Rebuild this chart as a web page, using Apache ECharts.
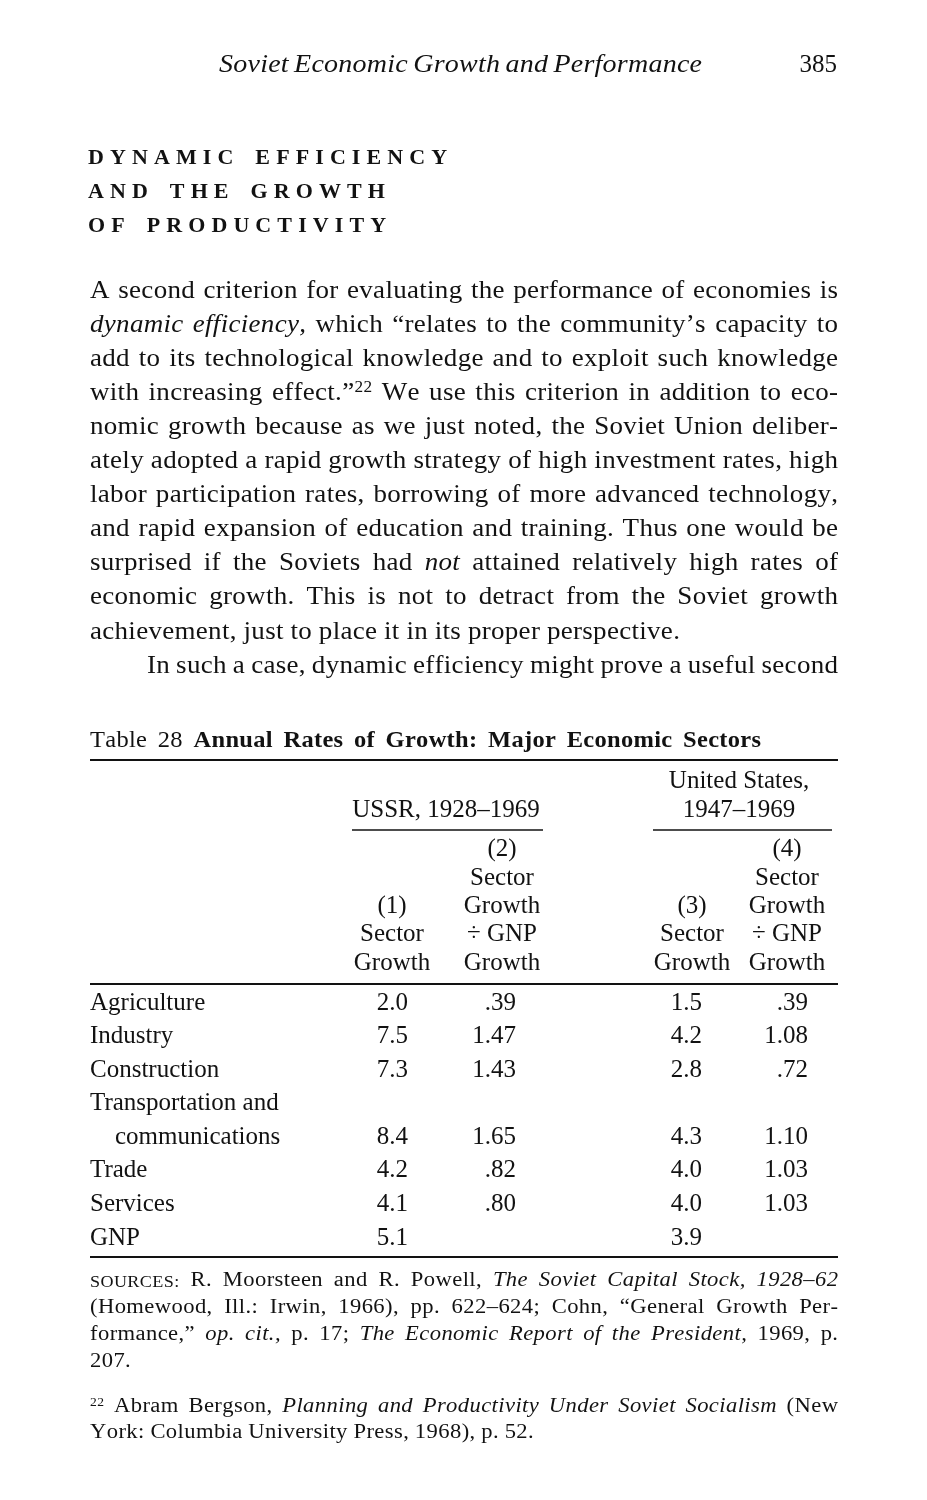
<!DOCTYPE html>
<html>
<head>
<meta charset="utf-8">
<script src="https://cdn.jsdelivr.net/npm/echarts@6/dist/echarts.min.js"></script>
<style>
html, body { margin: 0; padding: 0; background: #fff; }
#page { width: 927px; height: 1500px; }
</style>
</head>
<body>
<div id="page"></div>
<script>
// table data
var sectors = ['Agriculture', 'Industry', 'Construction', 'Transportation and\ncommunications', 'Trade', 'Services', 'GNP'];
var ussrSector = [2.0, 7.5, 7.3, 8.4, 4.2, 4.1, 5.1];
var ussrRatio = [0.39, 1.47, 1.43, 1.65, 0.82, 0.80, null];
var usSector = [1.5, 4.2, 2.8, 4.3, 4.0, 4.0, 3.9];
var usRatio = [0.39, 1.08, 0.72, 1.10, 1.03, 1.03, null];
var groupHeads = [['USSR, 1928–1969'], ['United States,', '1947–1969']];
var colHeads = [
    ['(1)', 'Sector', 'Growth'],
    ['(2)', 'Sector', 'Growth', '÷ GNP', 'Growth'],
    ['(3)', 'Sector', 'Growth'],
    ['(4)', 'Sector', 'Growth', '÷ GNP', 'Growth']
];

// page text
var runHead = 'Soviet Economic Growth and Performance';
var pageNo = '385';
var heading = ['DYNAMIC EFFICIENCY', 'AND THE GROWTH', 'OF PRODUCTIVITY'];
// * italic, ! bold, ~ small caps, ^ superscript
var bodyLines = [
    'A second criterion for evaluating the performance of economies is',
    '*dynamic *efficiency, which “relates to the community’s capacity to',
    'add to its technological knowledge and to exploit such knowledge',
    'with increasing effect.”^22 We use this criterion in addition to eco-',
    'nomic growth because as we just noted, the Soviet Union deliber-',
    'ately adopted a rapid growth strategy of high investment rates, high',
    'labor participation rates, borrowing of more advanced technology,',
    'and rapid expansion of education and training. Thus one would be',
    'surprised if the Soviets had *not attained relatively high rates of',
    'economic growth. This is not to detract from the Soviet growth',
    'achievement, just to place it in its proper perspective.',
    'In such a case, dynamic efficiency might prove a useful second'
];
var caption = 'Table 28 !Annual !Rates !of !Growth: !Major !Economic !Sectors';
var sourceLines = [
    '~SOURCES: R. Moorsteen and R. Powell, *The *Soviet *Capital *Stock, *1928–62',
    '(Homewood, Ill.: Irwin, 1966), pp. 622–624; Cohn, “General Growth Per-',
    'formance,” *op. *cit., p. 17; *The *Economic *Report *of *the *President, 1969, p.',
    '207.'
];
var noteLines = [
    '^22 Abram Bergson, *Planning *and *Productivity *Under *Soviet *Socialism (New',
    'York: Columbia University Press, 1968), p. 52.'
];

// layout
var FONT = '"Liberation Serif", "Times New Roman", serif';
var INK = '#121212';
var colRight = [408, 516, 702, 808];
var colMid = [392, 502, 692, 787];
var groupMid = [446, 739];
var groupRule = [[352, 543], [653, 832]];

var ctx = document.createElement('canvas').getContext('2d');
var wCache = {};

function charW(ch, size, style, weight) {
    var f = style + ' ' + weight + ' ' + size + 'px ' + FONT;
    var k = f + '|' + ch;
    if (!(k in wCache)) {
        ctx.font = f;
        wCache[k] = ctx.measureText(ch).width;
    }
    return wCache[k];
}

function parseWord(w, size) {
    var style = 'normal', weight = 'normal', s = size;
    if (w[0] === '*') { style = 'italic'; w = w.slice(1); }
    else if (w[0] === '!') { weight = 'bold'; w = w.slice(1); }
    else if (w[0] === '~') { s = Math.round(size * 0.78); w = w.slice(1); }
    var parts = [];
    var k = w.indexOf('^');
    var base = k < 0 ? w : w.slice(0, k);
    if (base) parts.push({ t: base, size: s, style: style, weight: weight, dy: 0.34 * (size - s) });
    if (k >= 0) {
        var ss = Math.round(size * 0.62);
        parts.push({ t: w.slice(k + 1), size: ss, style: 'normal', weight: 'normal', dy: 0.34 * (size - ss) - 0.36 * size });
    }
    return parts;
}

function partsInfo(parts, hs) {
    var w = 0, n = 0;
    parts.forEach(function(p) {
        for (var i = 0; i < p.t.length; i++) {
            w += charW(p.t[i], p.size, p.style, p.weight) * hs;
            n++;
        }
    });
    return { w: w, n: n };
}

function drawParts(parts, x, y, track, hs, out) {
    parts.forEach(function(p) {
        for (var i = 0; i < p.t.length; i++) {
            var ch = p.t[i];
            if (ch !== ' ') {
                out.push({
                    type: 'text', x: x, y: y + p.dy, scaleX: hs, silent: true,
                    style: {
                        text: ch, fill: INK, fontSize: p.size, fontFamily: FONT,
                        fontStyle: p.style, fontWeight: p.weight, verticalAlign: 'middle', align: 'left'
                    }
                });
            }
            x += charW(ch, p.size, p.style, p.weight) * hs + track;
        }
    });
    return x;
}

// one line of text, letter by letter, words spread to x1 when justify
function setLine(line, x0, x1, y, size, track, hs, justify, out, gapFix) {
    var words = line.split(' ').map(function(w) { return parseWord(w, size); });
    var infos = words.map(function(p) { return partsInfo(p, hs); });
    var glyphs = 0, gaps = 0;
    infos.forEach(function(f) { glyphs += f.w; gaps += f.n - 1; });
    var gap;
    if (justify) {
        var t = track;
        gap = (x1 - x0 - glyphs - gaps * t) / (words.length - 1);
        var minGap = size * 0.22;
        if (gap < minGap) {
            t = t - ((minGap - gap) * (words.length - 1)) / gaps;
            gap = minGap;
        }
        track = t;
    } else {
        gap = gapFix != null ? gapFix : charW(' ', size, 'normal', 'normal') * hs + track;
    }
    var x = x0;
    words.forEach(function(parts) {
        x = drawParts(parts, x, y, track, hs, out) - track;
        x += gap;
    });
}

function textEl(t, x, y, size, align) {
    return {
        type: 'text', x: x, y: y, silent: true,
        style: { text: t, fill: INK, fontSize: size, fontFamily: FONT, align: align, verticalAlign: 'middle' }
    };
}

function rule(x1, x2, y, w) {
    return { type: 'line', silent: true, shape: { x1: x1, y1: y, x2: x2, y2: y }, style: { stroke: INK, lineWidth: w } };
}

var els = [];

// running head
setLine('*' + runHead.split(' ').join(' *'), 219, 702, 65, 25, 0.3, 1.12, true, els);
els.push(textEl(pageNo, 837, 65, 25, 'right'));

// section heading
heading.forEach(function(h, i) {
    setLine('!' + h.split(' ').join(' !'), 88, 0, 158 + 34 * i, 22, 6.1, 1, false, els, 22);
});

// body text
bodyLines.forEach(function(l, i) {
    var last = i === 10;
    var x0 = i === 11 ? 147 : 90;
    setLine(l, x0, 838, 291 + 34.1 * i, 25, 0.3, 1.08, !last, els);
});

// table caption and rules
setLine(caption, 90, 761, 741, 24, 0.3, 1.02, true, els);
els.push(rule(90, 838, 760, 2));
groupHeads.forEach(function(g, i) {
    g.forEach(function(t, j) {
        els.push(textEl(t, groupMid[i], 810 - 29 * (g.length - 1 - j), 25, 'center'));
    });
    els.push(rule(groupRule[i][0], groupRule[i][1], 830, 1.5));
});
colHeads.forEach(function(h, c) {
    h.forEach(function(t, j) {
        els.push(textEl(t, colMid[c], 963 - 28.3 * (h.length - 1 - j), 25, 'center'));
    });
});
els.push(rule(90, 838, 984, 2));
els.push(rule(90, 838, 1257, 2));

// sources and footnote
sourceLines.forEach(function(l, i) {
    setLine(l, 90, 838, 1281 + 27 * i, 20, 0.4, 1.13, i < 3, els);
});
noteLines.forEach(function(l, i) {
    setLine(l, 90, 838, 1407 + 26 * i, 20, 0.4, 1.13, i < 1, els);
});

// table rows: one axis row per printed line, values sit on the last line of a sector
var rowLabels = [], rowIndent = [], sectorRow = [];
sectors.forEach(function(s) {
    s.split('\n').forEach(function(t, j) {
        rowLabels.push(t);
        rowIndent.push(j > 0);
    });
    sectorRow.push(rowLabels.length - 1);
});

var columns = [ussrSector, ussrRatio, usSector, usRatio];
var series = columns.map(function(vals, c) {
    return {
        type: 'scatter',
        symbolSize: 0,
        silent: true,
        itemStyle: { opacity: 1 },
        data: vals.map(function(v, i) {
            return v == null ? null : [colRight[c], sectorRow[i], v];
        }).filter(function(d) { return d; }),
        label: {
            show: true,
            position: 'left',
            distance: 0,
            fontSize: 25,
            fontFamily: FONT,
            color: INK,
            formatter: function(p) {
                var v = p.value[2];
                return c % 2 ? v.toFixed(2).replace(/^0/, '') : v.toFixed(1);
            }
        }
    };
});

var chart = echarts.init(document.getElementById('page'), null, { renderer: 'canvas' });
chart.setOption({
    animation: false,
    backgroundColor: '#ffffff',
    grid: { left: 90, top: 986.2, width: 750, height: 268.6 },
    xAxis: { type: 'value', min: 90, max: 840, show: false },
    yAxis: {
        type: 'category',
        inverse: true,
        data: rowLabels,
        axisLine: { show: false },
        axisTick: { show: false },
        splitLine: { show: false },
        axisLabel: {
            inside: true,
            margin: 0,
            interval: 0,
            fontSize: 25,
            fontFamily: FONT,
            color: INK,
            formatter: function(v, i) {
                return rowIndent[i] ? '{ind|' + v + '}' : v;
            },
            rich: {
                ind: { padding: [0, 0, 0, 25], fontSize: 25, fontFamily: FONT, color: INK }
            }
        }
    },
    series: series,
    graphic: { elements: els }
});
</script>
</body>
</html>
